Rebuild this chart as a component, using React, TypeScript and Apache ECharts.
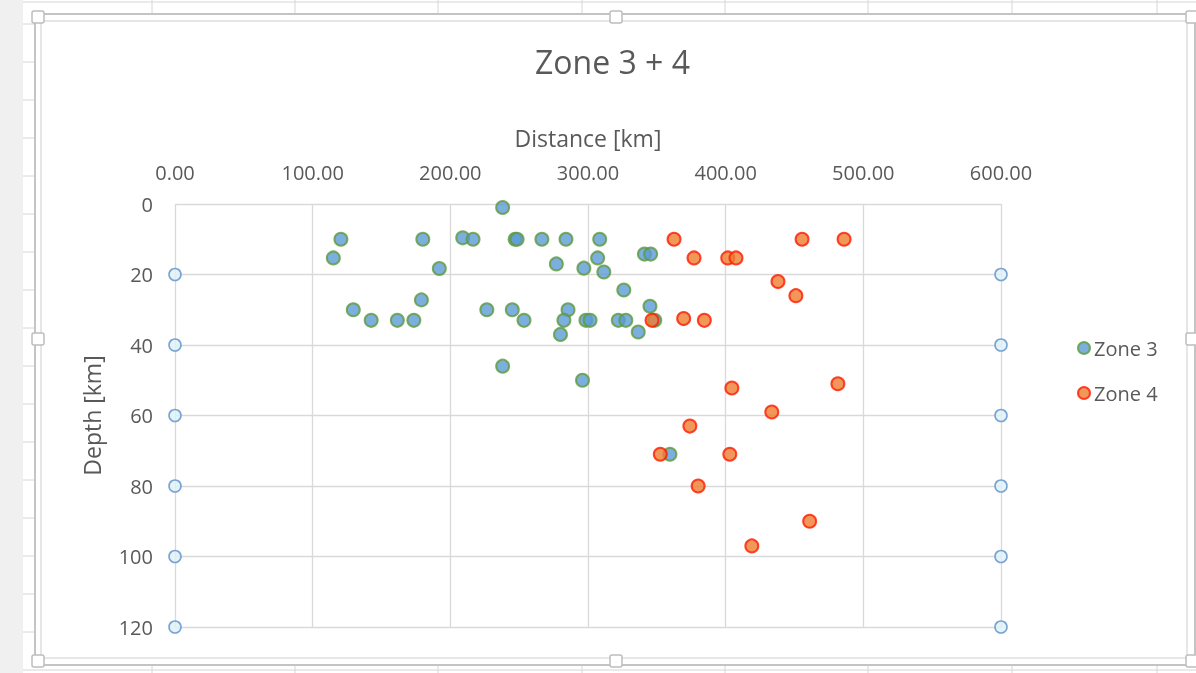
import React, { useEffect, useRef } from "react";
import * as echarts from "echarts";

// ---- data ----
const zone3X = [238, 120.5, 115, 180, 192, 209, 216.5, 247, 248.5, 266.5, 284, 308.5, 307, 277, 297, 311.5, 341, 345.5, 179, 129.5, 142.5, 161.5, 173.5, 226.5, 245, 253.5, 285.5, 282.5, 280, 298.5, 301.5, 322, 327.5, 326, 345, 348.5, 336.5, 238, 296, 359.5];
const zone3Depth = [1, 10, 15.3, 10, 18.3, 9.6, 10, 10, 10, 10, 10, 10, 15.3, 17, 18.2, 19.3, 14.2, 14.2, 27.2, 30, 33, 33, 33, 30, 30, 33, 30, 33, 37, 33, 33, 33, 33, 24.4, 29, 33, 36.3, 46, 50, 71];
const zone4X = [362.5, 455.5, 486, 377, 401.5, 407.5, 438, 451, 346.5, 369.5, 384.5, 404.5, 481.5, 433.5, 374, 352.5, 403, 380, 461, 419];
const zone4Depth = [10, 10, 10, 15.3, 15.3, 15.3, 22, 26, 33, 32.5, 33, 52.2, 51, 59, 63, 71, 71, 80, 90, 97];
const edgeX = [0, 0, 0, 0, 0, 0, 600, 600, 600, 600, 600, 600];
const edgeDepth = [20, 40, 60, 80, 100, 120, 20, 40, 60, 80, 100, 120];
const seriesNames = ["Zone 3", "Zone 4"];
const titleText = "Zone 3 + 4";
const xAxisTitle = "Distance [km]";
const yAxisTitle = "Depth [km]";

const pairs = (xs: number[], ys: number[]) => xs.map((x, i) => [x, ys[i]]);

const FONT = "'Open Sans', 'Noto Sans', sans-serif";
const TXT = "#595959";

function backgroundGraphics() {
  const els: any[] = [];
  const gridColor = "#d6d6d6";
  els.push({ type: "rect", shape: { x: 0, y: 0, width: 1196, height: 673 }, style: { fill: "#ffffff" }, z: -20, silent: true });
  els.push({ type: "rect", shape: { x: 0, y: 0, width: 23, height: 673 }, style: { fill: "#f0f0f0" }, z: -19, silent: true });
  [152, 295, 438, 582, 725, 868, 1012, 1157].forEach((x) => {
    els.push({ type: "line", shape: { x1: x, y1: 0, x2: x, y2: 673 }, style: { stroke: gridColor, lineWidth: 1 }, z: -18, silent: true });
  });
  for (let y = 24; y < 673; y += 38) {
    els.push({ type: "line", shape: { x1: 23, y1: y, x2: 1196, y2: y }, style: { stroke: gridColor, lineWidth: 1 }, z: -18, silent: true });
  }
  els.push({ type: "line", shape: { x1: 23, y1: 2, x2: 1196, y2: 2 }, style: { stroke: gridColor, lineWidth: 1 }, z: -18, silent: true });
  els.push({ type: "rect", shape: { x: 35, y: 14, width: 1160, height: 651 }, style: { fill: "#ffffff", stroke: "#c4c4c4", lineWidth: 2 }, z: -17, silent: true });
  els.push({ type: "rect", shape: { x: 41, y: 21, width: 1146, height: 637 }, style: { fill: "#ffffff", stroke: "#dedede", lineWidth: 1.5 }, z: -16, silent: true });
  const handles = [[38, 17], [616, 17], [1192, 17], [38, 339], [1192, 339], [38, 661], [616, 661], [1192, 661]];
  handles.forEach(([cx, cy]) => {
    els.push({ type: "rect", shape: { x: cx - 6, y: cy - 6, width: 12, height: 12, r: 2 }, style: { fill: "#ffffff", stroke: "#bdbdbd", lineWidth: 1.5 }, z: -15, silent: true });
  });
  return els;
}

export default function App() {
  const ref = useRef<HTMLDivElement>(null);
  useEffect(() => {
    if (!ref.current) return;
    const chart = echarts.init(ref.current, undefined, { renderer: "svg" });
    const z3Style = { color: "#5b9bd5", borderColor: "#5e9a3c", borderWidth: 2 };
    const z4Style = { color: "#ed7d31", borderColor: "#ff1a00", borderWidth: 2 };
    chart.setOption({
      animation: false,
      backgroundColor: "transparent",
      graphic: { elements: backgroundGraphics() },
      title: {
        text: titleText,
        left: 530,
        top: 40,
        textStyle: { fontFamily: FONT, fontSize: 32, fontWeight: "normal", color: TXT },
      },
      legend: {
        orient: "vertical",
        left: 1072,
        top: 333,
        itemWidth: 12,
        itemHeight: 12,
        itemGap: 25,
        data: [
          { name: seriesNames[0], icon: "circle", itemStyle: z3Style },
          { name: seriesNames[1], icon: "circle", itemStyle: z4Style },
        ],
        textStyle: { fontFamily: FONT, fontSize: 20, color: TXT, padding: [0, 0, 0, -1] },
      },
      grid: { left: 175, top: 204, width: 826, height: 423, containLabel: false },
      xAxis: {
        type: "value",
        position: "top",
        min: 0,
        max: 600,
        interval: 100,
        name: xAxisTitle,
        nameLocation: "middle",
        nameGap: 55,
        nameTextStyle: { fontFamily: FONT, fontSize: 23, color: TXT },
        axisLine: { show: false },
        axisTick: { show: false },
        axisLabel: { fontFamily: FONT, fontSize: 20, color: TXT, margin: 22, formatter: (v: number) => v.toFixed(2) },
        splitLine: { show: true, lineStyle: { color: "#d9d9d9", width: 1.3 } },
      },
      yAxis: {
        type: "value",
        inverse: true,
        min: 0,
        max: 120,
        interval: 20,
        name: yAxisTitle,
        nameLocation: "middle",
        nameGap: 72,
        nameRotate: 90,
        nameTextStyle: { fontFamily: FONT, fontSize: 23, color: TXT },
        axisLine: { show: false },
        axisTick: { show: false },
        axisLabel: { fontFamily: FONT, fontSize: 20, color: TXT, margin: 22 },
        splitLine: { show: true, lineStyle: { color: "#d9d9d9", width: 1.3 } },
      },
      series: [
        {
          name: "edges",
          type: "scatter",
          data: pairs(edgeX, edgeDepth),
          symbol: "circle",
          symbolSize: 12,
          itemStyle: { color: "#dff1f8", borderColor: "#5b8ec9", borderWidth: 1.6 },
          z: 3,
        },
        {
          name: seriesNames[0],
          type: "scatter",
          data: pairs(zone3X, zone3Depth),
          symbol: "circle",
          symbolSize: 13,
          itemStyle: z3Style,
          z: 4,
        },
        {
          name: seriesNames[1],
          type: "scatter",
          data: pairs(zone4X, zone4Depth),
          symbol: "circle",
          symbolSize: 13,
          itemStyle: z4Style,
          z: 5,
        },
      ],
    });
    return () => chart.dispose();
  }, []);
  return <div ref={ref} style={{ position: "fixed", left: 0, top: 0, width: 1196, height: 673 }} />;
}
